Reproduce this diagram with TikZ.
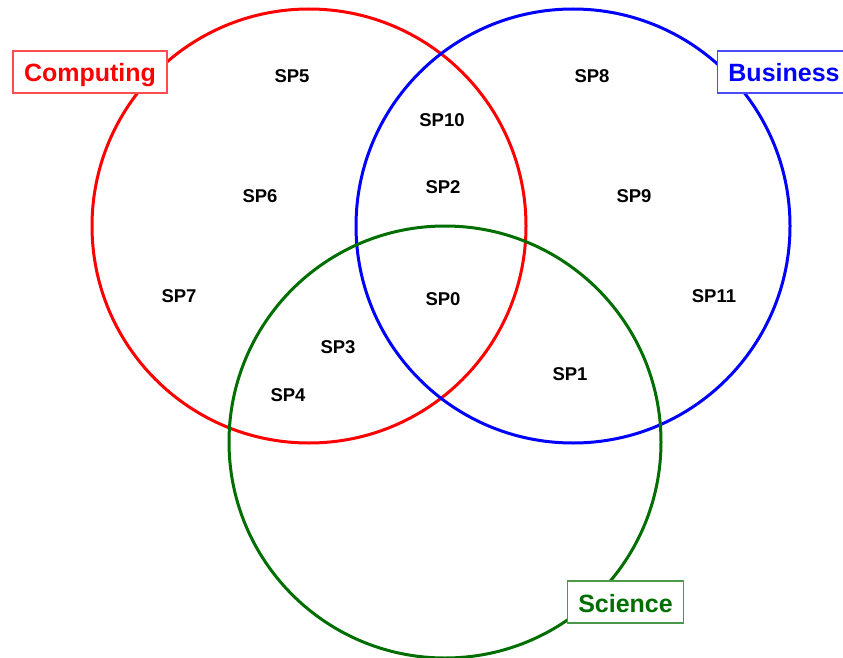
\documentclass[tikz,border=0pt]{standalone}
\usepackage{fontspec}
\setmainfont{Liberation Sans}
\definecolor{setred}{RGB}{255,0,0}
\definecolor{setblue}{RGB}{0,0,255}
\definecolor{setgreen}{RGB}{0,110,0}
\begin{document}
\begin{tikzpicture}[x=1pt,y=-1pt,
  setring/.style={circle, draw, line width=3pt, inner sep=0pt, minimum size=#1},
  setlabel/.style={draw=#1!70, fill=white, line width=1.3pt, text=#1,
    font=\fontsize{25}{25}\selectfont\bfseries, inner xsep=11pt, inner ysep=0pt,
    text height=20pt, text depth=0pt, minimum height=42pt},
  item/.style={font=\fontsize{18.5}{18.5}\selectfont\bfseries, inner sep=0pt}]
\useasboundingbox (0,0) rectangle (843,658);
\begin{scope}
\clip (0,0) rectangle (843,658);
% the three overlapping sets
\node[setring=434pt, draw=setred] (computing) at (309,226) {};
\node[setring=434pt, draw=setblue] (business) at (573,226) {};
\node[setring=432pt, draw=setgreen] (science) at (445,442) {};
% set captions
\node[setlabel=setred] (computinglabel) at (90,72) {Computing};
\node[setlabel=setblue] (businesslabel) at (784,72) {Business};
\node[setlabel=setgreen] (sciencelabel) at (625.5,602) {Science};
\end{scope}
% members
\node[item] (sp5) at (292,76) {SP5};
\node[item] (sp8) at (592,76) {SP8};
\node[item] (sp10) at (442,120) {SP10};
\node[item] (sp2) at (443,187) {SP2};
\node[item] (sp6) at (260,196) {SP6};
\node[item] (sp9) at (634,196) {SP9};
\node[item] (sp7) at (179,296) {SP7};
\node[item] (sp0) at (443,299) {SP0};
\node[item] (sp11) at (714,296) {SP11};
\node[item] (sp3) at (338,347) {SP3};
\node[item] (sp1) at (570,374) {SP1};
\node[item] (sp4) at (288,395) {SP4};
\end{tikzpicture}
\end{document}
